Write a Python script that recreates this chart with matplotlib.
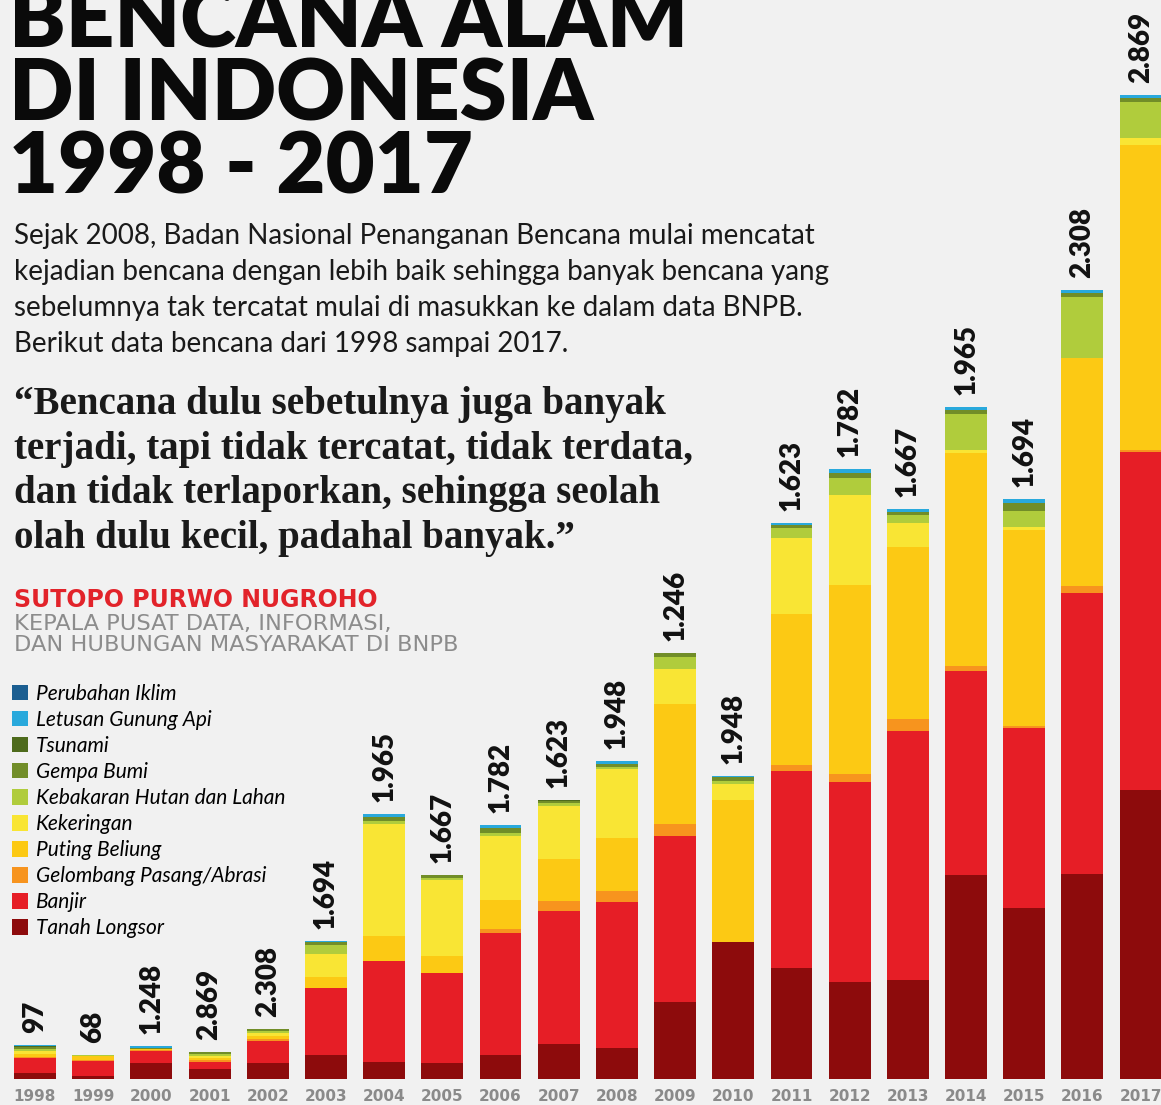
import numpy as np
import matplotlib
matplotlib.use("Agg")
import matplotlib.pyplot as plt

# tahun dan label angka di atas batang
tahun = [str(t) for t in range(1998, 2018)]
label_total = ["97", "68", "1.248", "2.869", "2.308", "1.694", "1.965", "1.667", "1.782", "1.623",
               "1.948", "1.246", "1.948", "1.623", "1.782", "1.667", "1.965", "1.694", "2.308", "2.869"]

# tinggi tiap jenis bencana per tahun (perkiraan dari gambar), urutan dari bawah ke atas
tanah_longsor = [6.3, 3.3, 16.3, 9.7, 16.3, 24, 16.7, 15.7, 24.3, 35, 31, 76.7, 137.3, 111.1, 97.2, 99.5, 203.7, 171.3, 204.6, 289.3]
banjir = [14.3, 14.7, 12, 7, 22, 66.7, 101.7, 90, 121.3, 133.3, 145.7, 166.7, 0, 196.8, 200, 248.6, 204.6, 179.6, 281.4, 337.7]
gelombang = [1.5, 1, 0.7, 2, 2, 0, 0, 0, 4.3, 10, 11, 11.7, 0, 6, 7.4, 11.6, 5.1, 1.9, 7, 2]
puting_beliung = [3, 4, 0.7, 2, 2.5, 11.7, 25, 17.7, 29, 41.7, 53, 120, 141.7, 151.4, 189.8, 172.7, 212.5, 195.8, 227.7, 305.1]
kekeringan = [3.3, 0, 0, 2.5, 3.2, 23, 112, 76, 64.3, 53.3, 69.3, 35, 16, 75.5, 89.8, 23.1, 2.8, 3.2, 0, 6.7]
kebakaran = [1.5, 0.7, 0.7, 1.5, 2.3, 8.5, 3, 1.5, 3, 2.5, 2, 11.7, 3, 10.2, 16.7, 8, 36.1, 16.7, 61.7, 36]
gempa_bumi = [2.5, 0, 0.7, 2, 1.5, 3, 3.5, 3.2, 4.7, 2.5, 3, 4.3, 3.7, 3, 5.6, 3.6, 4.6, 7.9, 3.3, 4]
tsunami = [0.5, 0, 0, 0.5, 0, 0, 0.5, 0, 0, 0.7, 0, 0, 0, 0, 0, 0, 0, 0, 0, 0]
letusan = [1.3, 0, 1.5, 0, 0, 0.8, 2.3, 0, 3, 0, 2.7, 0, 1.7, 1.6, 3.2, 3.2, 2.8, 3.2, 3.3, 2.7]
perubahan_iklim = [0] * 20

seri = [
    ("Tanah Longsor", tanah_longsor, "#8d0b0c"),
    ("Banjir", banjir, "#e61e26"),
    ("Gelombang Pasang/Abrasi", gelombang, "#f7941e"),
    ("Puting Beliung", puting_beliung, "#fcc914"),
    ("Kekeringan", kekeringan, "#f9e534"),
    ("Kebakaran Hutan dan Lahan", kebakaran, "#b0cc3c"),
    ("Gempa Bumi", gempa_bumi, "#718d28"),
    ("Tsunami", tsunami, "#4e6b1c"),
    ("Letusan Gunung Api", letusan, "#29a9dc"),
    ("Perubahan Iklim", perubahan_iklim, "#1b5e91"),
]

judul = ["BENCANA ALAM", "DI INDONESIA", "1998 - 2017"]
paragraf = ["Sejak 2008, Badan Nasional Penanganan Bencana mulai mencatat",
            "kejadian bencana dengan lebih baik sehingga banyak bencana yang",
            "sebelumnya tak tercatat mulai di masukkan ke dalam data BNPB.",
            "Berikut data bencana dari 1998 sampai 2017."]
kutipan = ["\u201cBencana dulu sebetulnya juga banyak",
           "terjadi, tapi tidak tercatat, tidak terdata,",
           "dan tidak terlaporkan, sehingga seolah",
           "olah dulu kecil, padahal banyak.\u201d"]

W, H = 1161, 1105
BG = "#f1f1f1"
fig = plt.figure(figsize=(W / 100, H / 100), dpi=100, facecolor=BG)

def pos(x, y):
    # piksel (dari kiri-atas) ke koordinat figure
    return x / W, 1 - y / H

# sumbu untuk batang: dasar batang di y=1079 px
ax = fig.add_axes([0, 26 / H, 1, 1079 / H])
ax.set_facecolor(BG)
x = np.arange(len(tahun))
bawah = np.zeros(len(tahun))
for nama, nilai, warna in seri:
    ax.bar(x, nilai, width=0.72, bottom=bawah, color=warna, label=nama, linewidth=0)
    bawah += np.array(nilai)

for i, lab in enumerate(label_total):
    ax.text(x[i], bawah[i] + 12, lab, rotation=90, ha="center", va="bottom",
            fontsize=20, fontweight="heavy", family="Lato", color="#111111")

ax.set_xlim(-0.601, 19.35)
ax.set_ylim(0, 1079)
ax.set_xticks(x)
ax.set_xticklabels(tahun, fontsize=11, fontweight="bold", color="#8a8a8a")
ax.tick_params(axis="x", length=0, pad=7)
ax.set_yticks([])
for s in ax.spines.values():
    s.set_visible(False)

# judul besar (baris pertama terpotong di atas, seperti aslinya)
for teks, yb in zip(judul, [47, 120, 193]):
    fig.text(*pos(9, yb), teks, fontsize=61, fontweight="heavy", family="Lato",
             color="#0a0a0a", va="baseline", ha="left")

for i, teks in enumerate(paragraf):
    fig.text(*pos(14, 244 + 36 * i), teks, fontsize=20, family="Lato", color="#1a1a1a",
             va="baseline", ha="left")

for i, teks in enumerate(kutipan):
    fig.text(*pos(14, 414 + 44.7 * i), teks, fontsize=28, family="Liberation Serif",
             fontweight="bold", color="#1a1a1a", va="baseline", ha="left")

fig.text(*pos(14, 607), "SUTOPO PURWO NUGROHO", fontsize=17, fontweight="heavy",
         color="#e2232a", va="baseline", ha="left")
fig.text(*pos(14, 630), "KEPALA PUSAT DATA, INFORMASI,", fontsize=16.2, color="#8c8c8c",
         va="baseline", ha="left")
fig.text(*pos(14, 651), "DAN HUBUNGAN MASYARAKAT DI BNPB", fontsize=16.2, color="#8c8c8c",
         va="baseline", ha="left")

h, l = ax.get_legend_handles_labels()
ax.legend(h[::-1], l[::-1], loc="upper left", bbox_to_anchor=pos(12, 684),
          bbox_transform=fig.transFigure, frameon=False, handlelength=0.75, handleheight=0.75,
          handletextpad=0.4, labelspacing=0.29, borderpad=0, borderaxespad=0,
          prop={"family": "Lato", "style": "italic", "size": 15})

fig.savefig("out.png", dpi=100, facecolor=BG)
